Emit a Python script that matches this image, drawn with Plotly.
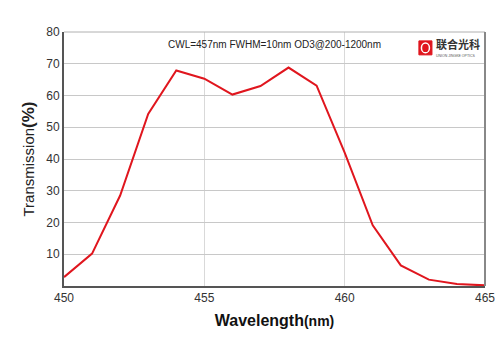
import plotly.graph_objects as go

wavelength = [450, 451, 452, 453, 454, 455, 456, 457, 458, 459, 460, 461, 462, 463, 464, 465]
transmission = [2.8, 10.2, 28.5, 54.2, 67.9, 65.3, 60.3, 63.0, 68.8, 63.1, 42.0, 19.1, 6.5, 2.0, 0.6, 0.2]
x_ticks = [450, 455, 460, 465]
y_ticks = [10, 20, 30, 40, 50, 60, 70, 80]

fig = go.Figure()
fig.add_trace(go.Scatter(x=wavelength, y=transmission, mode="lines",
                         line=dict(color="#e0161e", width=2)))

fig.update_layout(
    width=500, height=353,
    margin=dict(l=64, r=15, t=32, b=67),
    paper_bgcolor="white", plot_bgcolor="white",
    showlegend=False,
    font=dict(family="Arial, Liberation Sans, sans-serif", color="#333"),
    xaxis=dict(range=[450, 465], tickvals=x_ticks, showgrid=True, gridcolor="#d9d9d9",
               gridwidth=1, showline=True, linecolor="#555", linewidth=2, ticks="",
               tickfont=dict(size=12, color="#333"), zeroline=False, automargin=False,
               title=dict(text="<b>Wavelength<span style='font-size:14px'>(nm)</span></b>",
                          font=dict(size=16, color="#111"), standoff=10)),
    yaxis=dict(range=[0, 80], tickvals=y_ticks, ticktext=[str(v) for v in y_ticks],
               showgrid=True, gridcolor="#c8c8c8", gridwidth=1, showline=True,
               linecolor="#555", linewidth=2, ticks="", zeroline=False, automargin=False,
               tickfont=dict(size=12, color="#333"),
               title=dict(text="Transmission<b><span style='font-size:17px'>(%)</span></b>",
                          font=dict(size=15, color="#222"), standoff=8)),
)

# top gridline/border and right border
fig.add_shape(type="line", xref="paper", yref="paper", x0=0, x1=1, y0=1, y1=1,
              line=dict(color="#b0b0b0", width=1))
fig.add_shape(type="line", xref="paper", yref="paper", x0=1, x1=1, y0=0, y1=1,
              line=dict(color="#888", width=2))

fig.add_annotation(text="CWL=457nm FWHM=10nm OD3@200-1200nm", xref="paper", yref="paper",
                   x=0.5, y=0.95, xanchor="center", yanchor="middle", showarrow=False,
                   font=dict(size=10, color="#222"))

# logo
fig.add_shape(type="rect", xref="paper", yref="paper", x0=0.843, x1=0.874, y0=0.91, y1=0.965,
              fillcolor="#e0161e", line=dict(color="#e0161e", width=1))
fig.add_shape(type="circle", xref="paper", yref="paper", x0=0.849, x1=0.868, y0=0.918, y1=0.957,
              fillcolor="rgba(0,0,0,0)", line=dict(color="white", width=1.5))
fig.add_annotation(text="<b>联合光科</b>", xref="paper", yref="paper", x=0.878, y=0.952,
                   xanchor="left", yanchor="middle", showarrow=False,
                   font=dict(size=11, color="#333", family="Noto Sans CJK SC"))
fig.add_annotation(text="UNION JINGKE OPTICS", xref="paper", yref="paper", x=0.879, y=0.905,
                   xanchor="left", yanchor="middle", showarrow=False,
                   font=dict(size=3.5, color="#555"))

fig.write_html("out.html")
